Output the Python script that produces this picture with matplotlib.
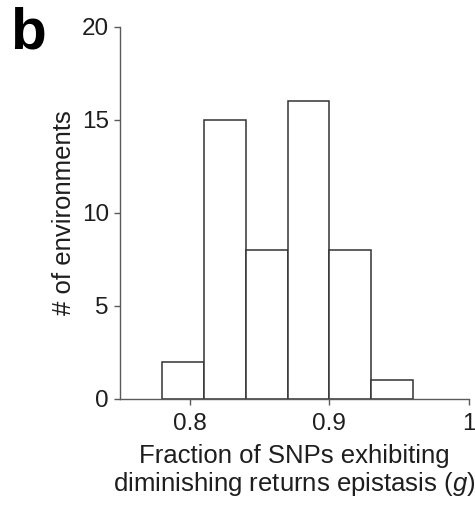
import numpy as np
import matplotlib
matplotlib.use("Agg")
import matplotlib.pyplot as plt

# histogram of g across environments
bin_edges = [0.78, 0.81, 0.84, 0.87, 0.90, 0.93, 0.96]
counts = [2, 15, 8, 16, 8, 1]
xticks = [0.8, 0.9, 1.0]
xtick_labels = ["0.8", "0.9", "1"]
yticks = [0, 5, 10, 15, 20]

plt.rcParams["font.family"] = ["Liberation Sans", "DejaVu Sans"]
plt.rcParams["mathtext.fontset"] = "custom"
plt.rcParams["mathtext.rm"] = "Liberation Sans"
plt.rcParams["mathtext.it"] = "Liberation Sans:italic"

text_col = "#1e1e1e"
axis_col = "#5a5a5a"
bar_col = "#333333"

fig = plt.figure(figsize=(4.75, 5.09), dpi=100)
ax = fig.add_axes([0.2526, 0.2167, 0.7348, 0.7303])

edges = np.array(bin_edges)
ax.bar(edges[:-1], counts, width=np.diff(edges), align="edge",
       facecolor="white", edgecolor=bar_col, linewidth=1.1)

ax.set_xlim(0.75, 1.0)
ax.set_ylim(0, 20)
ax.set_xticks(xticks)
ax.set_xticklabels(xtick_labels)
ax.set_yticks(yticks)

for s in ["top", "right"]:
    ax.spines[s].set_visible(False)
for s in ["left", "bottom"]:
    ax.spines[s].set_color(axis_col)
    ax.spines[s].set_linewidth(1.0)

ax.tick_params(axis="both", direction="out", length=4, width=1.0,
               color=axis_col, labelsize=17.5, labelcolor=text_col, pad=6)
ax.tick_params(axis="y", pad=4)

ax.set_ylabel("# of environments", fontsize=18.5, color=text_col, labelpad=4)
ax.set_xlabel("Fraction of SNPs exhibiting\ndiminishing returns epistasis ($g$)",
              fontsize=18.5, color=text_col, labelpad=7, linespacing=1.1)

fig.text(0.022, 0.904, "b", fontsize=42, fontweight="bold", color="black")

fig.savefig("out.png", dpi=100, facecolor="white")
